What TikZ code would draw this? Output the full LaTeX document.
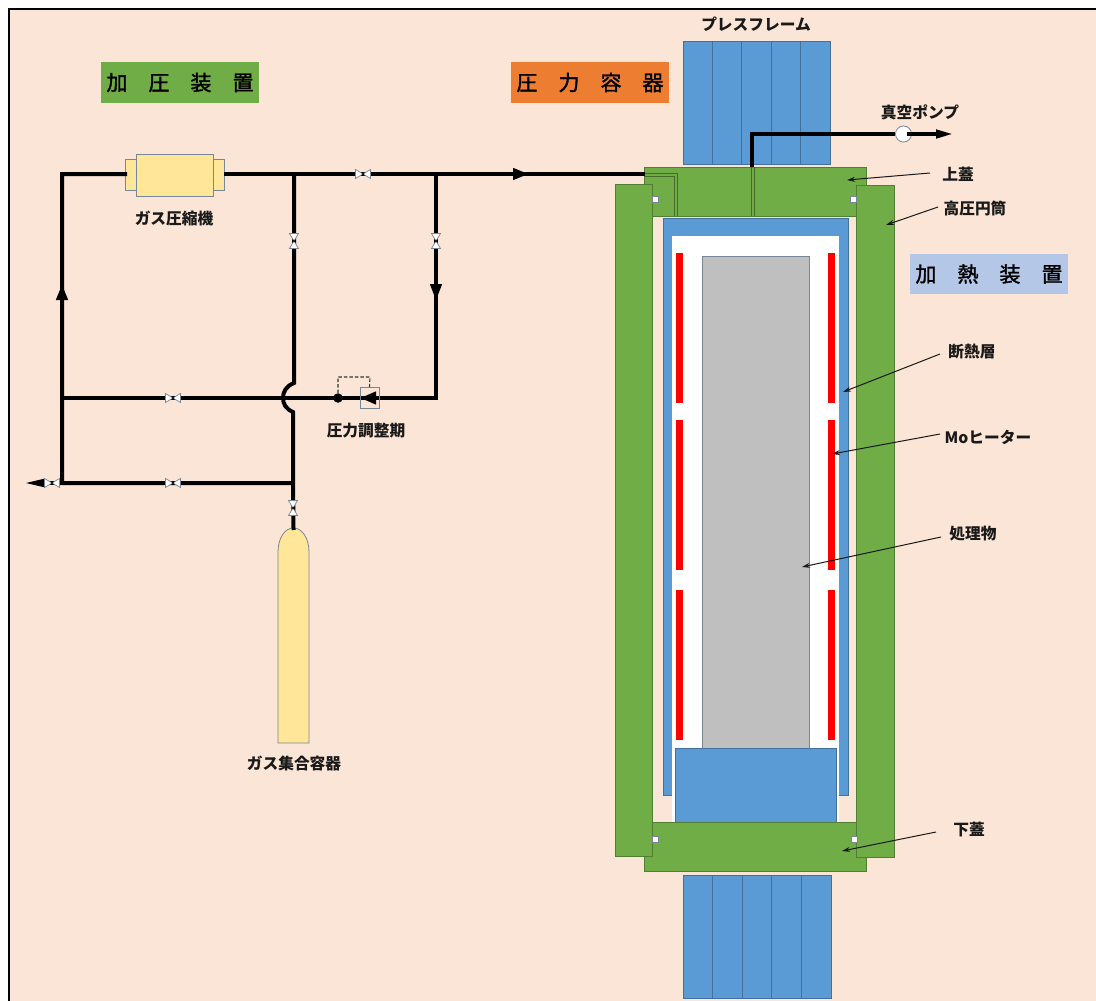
\documentclass[tikz,border=0pt]{standalone}
\usepackage{xcolor}
\usepackage{fontspec}
\usetikzlibrary{arrows.meta}
\newfontfamily\cjk{Noto Sans CJK JP}
\newfontfamily\cjktag[FakeBold=1.6]{Noto Sans CJK JP}
\definecolor{paper}{RGB}{251,229,214}
\definecolor{lidgreen}{RGB}{112,173,71}
\definecolor{edgegreen}{RGB}{80,126,50}
\definecolor{pressblue}{RGB}{91,155,213}
\definecolor{edgeblue}{RGB}{65,113,156}
\definecolor{tankyellow}{RGB}{255,230,153}
\definecolor{edgegray}{RGB}{120,135,150}
\definecolor{tagorange}{RGB}{237,125,49}
\definecolor{tagblue}{RGB}{180,199,231}
\definecolor{workgray}{RGB}{191,191,191}

\begin{document}
\begin{tikzpicture}[x=1pt, y=-1pt,
  part/.style n args={2}{anchor=north west, inner sep=0pt, outer sep=0pt, minimum width=#1, minimum height=#2, line width=0.8pt},
  press/.style n args={2}{part={#1}{#2}, draw=edgeblue, fill=pressblue},
  steel/.style n args={2}{part={#1}{#2}, draw=edgegreen, fill=lidgreen},
  tank/.style n args={2}{part={#1}{#2}, draw=edgegray, fill=tankyellow},
  heater/.style n args={2}{part={#1}{#2}, draw=red, fill=red},
  seal/.style={part={6pt}{6pt}, draw=edgegray, fill=white},
  tag/.style={part={158pt}{41pt}, font=\cjktag\fontsize{21}{24}\selectfont, align=center},
  lbl/.style={font=\cjk\bfseries\fontsize{15.7}{18}\selectfont, inner sep=0pt, text=black!90},
  pipe/.style={line width=4pt, black},
  channel/.style={line width=0.8pt, edgegreen!85!black},
  flow/.style={-{Triangle[length=#1, width=11pt]}, line width=4pt, black},
  flow/.default=16pt,
  leader/.style={-{Stealth[length=8pt, width=5pt]}, line width=1pt, black!90},
  valve/.pic={
    \draw[line width=0.7pt, edgegray, fill=white] (-7.5,-4.5) -- (7.5,4.5) -- (7.5,-4.5) -- (-7.5,4.5) -- cycle;
    \fill[black] (0,0) circle (1.2pt);
  }]
  \useasboundingbox (0,0) rectangle (1096,1001);
  % frame
  \fill[paper] (9,9) rectangle (1100,1005);
  \draw[line width=2.6pt, black] (1100,9) -- (9,9) -- (9,1005);

  % press frame
  \node[press={147pt}{123pt}] (pressup) at (683,41) {};
  \node[press={148pt}{123pt}] (pressdn) at (683,875) {};
  \foreach \x in {712,741,771,800} \draw[line width=0.8pt, edgeblue] (\x,41) -- (\x,164);
  \foreach \x in {712,742,771,801} \draw[line width=0.8pt, edgeblue] (\x,875) -- (\x,998);

  % vessel
  \node[steel={222pt}{49pt}] (lidup) at (644,167) {};
  \node[steel={222pt}{49pt}] (liddn) at (644,822) {};
  \node[press={185pt}{577pt}] (insul) at (663,218) {};
  \node[part={167pt}{586pt}, fill=white] (hotzone) at (672,236) {};
  \node[part={107pt}{492pt}, draw=edgegray, fill=workgray] (work) at (702,256) {};
  \node[press={161pt}{74pt}] (base) at (675,748) {};
  \draw[line width=0.8pt, edgegreen] (liddn.north west) -- (liddn.north east);
  \node[steel={37pt}{672pt}] (cylL) at (615,184) {};
  \node[steel={38pt}{672pt}] (cylR) at (856,185) {};
  \node[seal] (sealA) at (652.5,196) {};
  \node[seal] (sealB) at (850,196) {};
  \node[seal] (sealC) at (652,836) {};
  \node[seal] (sealD) at (851,836) {};
  \foreach \n/\x/\y in {a/676/253, b/676/420, c/676/590, d/828/253, e/828/420, f/828/590}
    \node[heater={6pt}{149pt}] (heat\n) at (\x,\y) {};

  % channels through the upper lid
  \draw[channel] (644,173) -- (677,173) -- (677,216);
  \draw[channel] (644,176) -- (674.5,176) -- (674.5,216);
  \draw[channel] (751,167) -- (751,216);
  \draw[channel] (754,167) -- (754,216);

  % compressor and gas tank
  \node[tank={11pt}{31pt}] (compL) at (125,159) {};
  \node[tank={11pt}{31pt}] (compR) at (213,159) {};
  \node[tank={77pt}{42pt}] (comp) at (136,154) {};
  \draw[line width=0.8pt, edgegray, fill=tankyellow] (278,743) -- (278,552)
    .. controls (278,538) and (285,528) .. (293.5,528)
    .. controls (302,528) and (309,538) .. (309,552) -- (309,743) -- cycle;
  \coordinate (tanktop) at (293.5,528);

  % pipe junctions
  \coordinate (cnrA) at (62,174);
  \coordinate (cnrB) at (62,483);
  \coordinate (teeA) at (294,174);
  \coordinate (teeB) at (436,174);
  \coordinate (cnrC) at (436,398);
  \coordinate (teeC) at (62,398);
  \coordinate (teeD) at (293,483);
  \coordinate (hopA) at (294,383);
  \coordinate (hopB) at (293,412);
  \coordinate (lidin) at (645,174);
  \coordinate (vacA) at (752,167);
  \coordinate (vacB) at (752,134);
  \coordinate (pumpout) at (907,134);
  \coordinate (vacend) at (954,134);
  \coordinate (drain) at (22,483);

  \draw[pipe, line cap=rect] (compL.west |- cnrA) -- (cnrA) -- (cnrB) -- (teeD) -- (tanktop);
  \draw[pipe] (compR.east |- cnrA) -- (lidin);
  \draw[pipe] (teeA) -- (hopA) .. controls (286,386) and (283,392) .. (283,398) .. controls (283,404) and (286,409) .. (hopB) -- (teeD);
  \draw[pipe, line join=miter] (teeB) -- (cnrC) -- (teeC);
  \draw[pipe] (vacA) -- (vacB) -- (895,134);
  \node[circle, draw=edgegray, fill=white, line width=0.8pt, minimum size=16pt, inner sep=0pt] (pump) at (903.5,134) {};
  \draw[flow=17pt, -{Triangle[length=18pt, width=8pt]}] (pumpout) -- (vacend);
  \draw[flow=21pt, -{Triangle[length=22pt, width=7pt]}] (cnrB) -- (drain);

  % flow arrows
  \coordinate (arrA) at (505,174);
  \coordinate (arrB) at (529,174);
  \coordinate (arrC) at (436,275);
  \coordinate (arrD) at (436,301);
  \coordinate (arrE) at (62,305);
  \coordinate (arrF) at (62,284);
  \draw[flow] (arrA) -- (arrB);
  \draw[flow=17pt] (arrC) -- (arrD);
  \draw[flow=16pt] (arrE) -- (arrF);

  % regulator
  \node[part={19pt}{21pt}, draw=edgegray] (reg) at (360,387) {};
  \node[circle, fill=black, minimum size=9.5pt, inner sep=0pt] (regdot) at (338,398) {};
  \coordinate (regarrA) at (379,398);
  \coordinate (regarrB) at (360,398);
  \draw[-{Triangle[length=16pt, width=12pt]}, line width=4pt] (regarrA) -- (regarrB);
  \draw[dash pattern=on 3.5pt off 2pt, line width=1.1pt, black!80] (regdot) -- (338,377) -- (370,377) -- (reg.north);

  % valves
  \foreach \x/\y in {363/174, 173/398, 173/483, 52/483} \pic at (\x,\y) {valve};
  \foreach \x/\y in {294/241, 436/241, 293/508} \pic[rotate=90] at (\x,\y) {valve};

  % tags
  \node[tag, fill=lidgreen] (tagpress) at (101,62) {加　圧　装　置};
  \node[tag, fill=tagorange] (tagvessel) at (511,62) {圧　力　容　器};
  \node[tag, fill=tagblue, minimum height=40pt] (tagheat) at (910,254) {加　熱　装　置};

  % labels
  \node[lbl] (lblframe) at (756,24) {プレスフレーム};
  \node[lbl] (lblpump) at (920,112) {真空ポンプ};
  \node[lbl] (lbllid) at (958,174) {上蓋};
  \node[lbl] (lblcyl) at (975,208) {高圧円筒};
  \node[lbl] (lblinsul) at (972,352) {断熱層};
  \node[lbl] (lblheat) at (988,437) {Moヒーター};
  \node[lbl] (lblwork) at (973,534) {処理物};
  \node[lbl] (lbllow) at (969,830) {下蓋};
  \node[lbl] (lblcomp) at (174,219) {ガス圧縮機};
  \node[lbl] (lblreg) at (366,431) {圧力調整期};
  \node[lbl] (lbltank) at (294,764) {ガス集合容器};

  % leaders
  \coordinate (tailA) at (930,173);   \coordinate (tipA) at (847,180);
  \coordinate (tailB) at (938,207);   \coordinate (tipB) at (886,225);
  \coordinate (tailC) at (940,354);   \coordinate (tipC) at (843,392);
  \coordinate (tailD) at (940,434);   \coordinate (tipD) at (832,454);
  \coordinate (tailE) at (941,537);   \coordinate (tipE) at (802,567);
  \coordinate (tailF) at (936,832);   \coordinate (tipF) at (842,851);
  \foreach \a in {A,B,C,D,E,F} \draw[leader] (tail\a) -- (tip\a);
\end{tikzpicture}
\end{document}
